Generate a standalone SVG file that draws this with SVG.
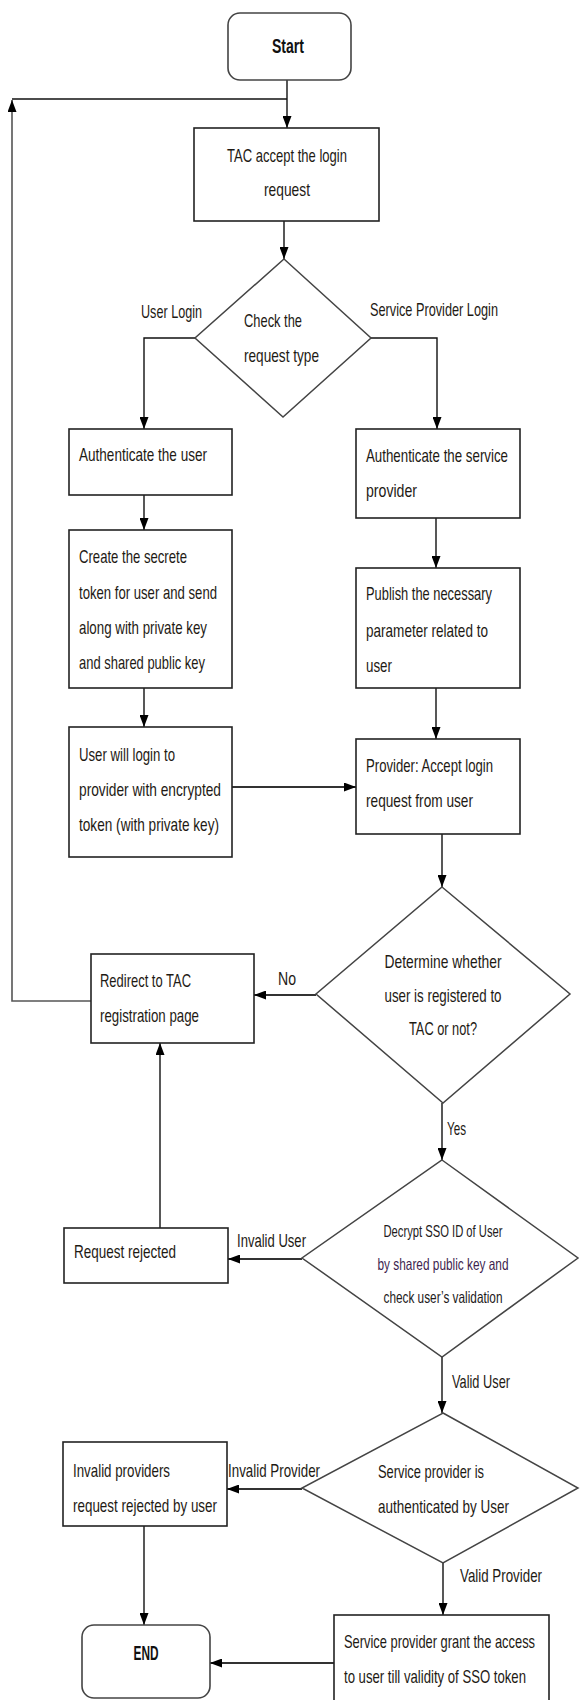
<svg xmlns="http://www.w3.org/2000/svg" width="580" height="1700" viewBox="0 0 580 1700">
<style>
.box{fill:#fff;stroke:#222;stroke-width:1.6}
.term{fill:#fff;stroke:#444;stroke-width:1.6}
.dia{fill:#fff;stroke:#444;stroke-width:1.5}
.t{font-family:"Liberation Sans",Arial,sans-serif;font-size:19px;fill:#1e1a14}
.s{font-family:"Liberation Sans",Arial,sans-serif;font-size:16.5px;fill:#221a1a}
.b{font-family:"Liberation Sans",Arial,sans-serif;font-size:20px;font-weight:bold;fill:#111}
.c{text-anchor:middle}
.ln{fill:none;stroke:#111;stroke-width:1.4}
.lh{fill:none;stroke:#333;stroke-width:2}
.lg{fill:none;stroke:#555;stroke-width:1.6}
</style>
<defs>
<marker id="arr" markerUnits="userSpaceOnUse" markerWidth="12" markerHeight="9" refX="12" refY="4.5" orient="auto">
<path d="M0,0 L12,4.5 L0,9 z" fill="#000"/>
</marker>
</defs>

<g id="connectors">
<line class="ln" x1="287" y1="80" x2="287" y2="128" marker-end="url(#arr)"/>
<line class="ln" x1="12" y1="99" x2="287" y2="99"/>
<path class="lg" d="M91,1001 H12 V100" marker-end="url(#arr)"/>
<line class="ln" x1="284" y1="221" x2="284" y2="259" marker-end="url(#arr)"/>
<path class="ln" d="M195,338 H144 V429" marker-end="url(#arr)"/>
<path class="ln" d="M371,338 H437 V429" marker-end="url(#arr)"/>
<line class="ln" x1="144" y1="495" x2="144" y2="530" marker-end="url(#arr)"/>
<line class="ln" x1="144" y1="688" x2="144" y2="727" marker-end="url(#arr)"/>
<line class="ln" x1="436" y1="518" x2="436" y2="568" marker-end="url(#arr)"/>
<line class="ln" x1="436" y1="688" x2="436" y2="739" marker-end="url(#arr)"/>
<line class="lh" x1="232" y1="787" x2="356" y2="787" marker-end="url(#arr)"/>
<line class="ln" x1="442" y1="834" x2="442" y2="887" marker-end="url(#arr)"/>
<line class="lh" x1="316" y1="995" x2="254" y2="995" marker-end="url(#arr)"/>
<line class="ln" x1="442" y1="1103" x2="442" y2="1160" marker-end="url(#arr)"/>
<line class="lh" x1="302" y1="1259" x2="228" y2="1259" marker-end="url(#arr)"/>
<line class="ln" x1="160" y1="1228" x2="160" y2="1043" marker-end="url(#arr)"/>
<line class="ln" x1="442" y1="1357" x2="442" y2="1413" marker-end="url(#arr)"/>
<line class="lh" x1="302" y1="1489" x2="227" y2="1489" marker-end="url(#arr)"/>
<line class="ln" x1="144" y1="1526" x2="144" y2="1625" marker-end="url(#arr)"/>
<line class="ln" x1="443" y1="1563" x2="443" y2="1615" marker-end="url(#arr)"/>
<line class="lh" x1="334" y1="1663" x2="210" y2="1663" marker-end="url(#arr)"/>
</g>

<g id="labels">
<text class="t" x="141" y="318" textLength="61" lengthAdjust="spacingAndGlyphs">User Login</text>
<text class="t" x="370" y="316" textLength="128" lengthAdjust="spacingAndGlyphs">Service Provider Login</text>
<text class="t" x="278" y="985" textLength="18" lengthAdjust="spacingAndGlyphs">No</text>
<text class="t" x="447" y="1135" textLength="19" lengthAdjust="spacingAndGlyphs">Yes</text>
<text class="t" x="237" y="1247" textLength="69" lengthAdjust="spacingAndGlyphs">Invalid User</text>
<text class="t" x="452" y="1388" textLength="58" lengthAdjust="spacingAndGlyphs">Valid User</text>
<text class="t" x="228" y="1477" textLength="92" lengthAdjust="spacingAndGlyphs">Invalid Provider</text>
<text class="t" x="460" y="1582" textLength="82" lengthAdjust="spacingAndGlyphs">Valid Provider</text>
</g>

<g id="start">
<rect class="term" x="228" y="13" width="123" height="67" rx="12"/>
<text class="b c" x="288" y="53" textLength="32" lengthAdjust="spacingAndGlyphs">Start</text>
</g>

<g id="tac-accept">
<rect class="box" x="194" y="128" width="185" height="93"/>
<text class="t c" x="287" y="162" textLength="120" lengthAdjust="spacingAndGlyphs">TAC accept the login</text>
<text class="t c" x="287" y="196" textLength="46" lengthAdjust="spacingAndGlyphs">request</text>
</g>

<g id="check-type">
<polygon class="dia" points="284,259 371,338 283,417 195,338"/>
<text class="t" x="244" y="327" textLength="58" lengthAdjust="spacingAndGlyphs">Check the</text>
<text class="t" x="244" y="362" textLength="75" lengthAdjust="spacingAndGlyphs">request type</text>
</g>

<g id="auth-user">
<rect class="box" x="69" y="429" width="163" height="66"/>
<text class="t" x="79" y="461" textLength="128" lengthAdjust="spacingAndGlyphs">Authenticate the user</text>
</g>

<g id="auth-sp">
<rect class="box" x="356" y="429" width="164" height="89"/>
<text class="t" x="366" y="462" textLength="142" lengthAdjust="spacingAndGlyphs">Authenticate the service</text>
<text class="t" x="366" y="497" textLength="51" lengthAdjust="spacingAndGlyphs">provider</text>
</g>

<g id="create-token">
<rect class="box" x="69" y="530" width="163" height="158"/>
<text class="t" x="79" y="563" textLength="108" lengthAdjust="spacingAndGlyphs">Create the secrete</text>
<text class="t" x="79" y="599" textLength="138" lengthAdjust="spacingAndGlyphs">token for user and send</text>
<text class="t" x="79" y="634" textLength="128" lengthAdjust="spacingAndGlyphs">along with private key</text>
<text class="t" x="79" y="669" textLength="126" lengthAdjust="spacingAndGlyphs">and shared public key</text>
</g>

<g id="publish">
<rect class="box" x="356" y="568" width="164" height="120"/>
<text class="t" x="366" y="600" textLength="126" lengthAdjust="spacingAndGlyphs">Publish the necessary</text>
<text class="t" x="366" y="637" textLength="122" lengthAdjust="spacingAndGlyphs">parameter related to</text>
<text class="t" x="366" y="672" textLength="26" lengthAdjust="spacingAndGlyphs">user</text>
</g>

<g id="user-login">
<rect class="box" x="69" y="727" width="163" height="130"/>
<text class="t" x="79" y="761" textLength="96" lengthAdjust="spacingAndGlyphs">User will login to</text>
<text class="t" x="79" y="796" textLength="142" lengthAdjust="spacingAndGlyphs">provider with encrypted</text>
<text class="t" x="79" y="831" textLength="140" lengthAdjust="spacingAndGlyphs">token (with private key)</text>
</g>

<g id="provider-accept">
<rect class="box" x="356" y="739" width="164" height="95"/>
<text class="t" x="366" y="772" textLength="127" lengthAdjust="spacingAndGlyphs">Provider: Accept login</text>
<text class="t" x="366" y="807" textLength="107" lengthAdjust="spacingAndGlyphs">request from user</text>
</g>

<g id="registered">
<polygon class="dia" points="442,887 570,994 443,1103 316,994"/>
<text class="t c" x="443" y="968" textLength="117" lengthAdjust="spacingAndGlyphs">Determine whether</text>
<text class="t c" x="443" y="1002" textLength="117" lengthAdjust="spacingAndGlyphs">user is registered to</text>
<text class="t c" x="443" y="1035" textLength="68" lengthAdjust="spacingAndGlyphs">TAC or not?</text>
</g>

<g id="redirect">
<rect class="box" x="91" y="954" width="163" height="89"/>
<text class="t" x="100" y="987" textLength="91" lengthAdjust="spacingAndGlyphs">Redirect to TAC</text>
<text class="t" x="100" y="1022" textLength="99" lengthAdjust="spacingAndGlyphs">registration page</text>
</g>

<g id="decrypt">
<polygon class="dia" points="442,1160 578,1258 442,1357 302,1258"/>
<text class="s c" x="443" y="1237" textLength="119" lengthAdjust="spacingAndGlyphs">Decrypt SSO ID of User</text>
<text class="s c" x="443" y="1270" textLength="131" lengthAdjust="spacingAndGlyphs" style="fill:#3e1f50">by shared public key and</text>
<text class="s c" x="443" y="1303" textLength="119" lengthAdjust="spacingAndGlyphs">check user’s validation</text>
</g>

<g id="request-rejected">
<rect class="box" x="64" y="1228" width="164" height="55"/>
<text class="t" x="74" y="1258" textLength="102" lengthAdjust="spacingAndGlyphs">Request rejected</text>
</g>

<g id="sp-authenticated">
<polygon class="dia" points="443,1413 578,1488 443,1563 302,1488"/>
<text class="t" x="378" y="1478" textLength="106" lengthAdjust="spacingAndGlyphs">Service provider is</text>
<text class="t" x="378" y="1513" textLength="131" lengthAdjust="spacingAndGlyphs">authenticated by User</text>
</g>

<g id="invalid-providers">
<rect class="box" x="63" y="1442" width="164" height="84"/>
<text class="t" x="73" y="1477" textLength="97" lengthAdjust="spacingAndGlyphs">Invalid providers</text>
<text class="t" x="73" y="1512" textLength="144" lengthAdjust="spacingAndGlyphs">request rejected by user</text>
</g>

<g id="grant-access">
<rect class="box" x="334" y="1615" width="215" height="100"/>
<text class="t" x="344" y="1648" textLength="191" lengthAdjust="spacingAndGlyphs">Service provider grant the access</text>
<text class="t" x="344" y="1683" textLength="182" lengthAdjust="spacingAndGlyphs">to user till validity of SSO token</text>
</g>

<g id="end">
<rect class="term" x="82" y="1625" width="128" height="73" rx="12"/>
<text class="b c" x="146" y="1660" textLength="25" lengthAdjust="spacingAndGlyphs">END</text>
</g>
</svg>
